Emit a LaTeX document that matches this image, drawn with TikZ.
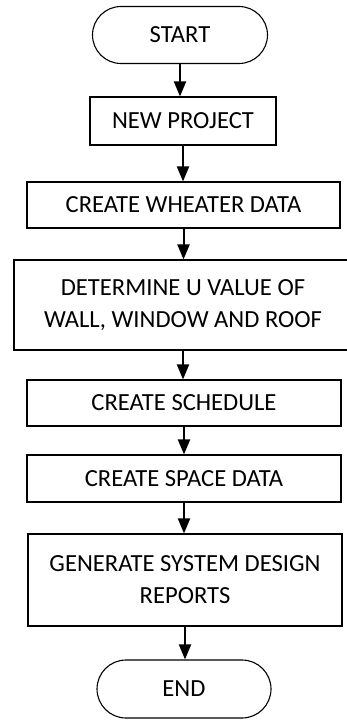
\documentclass[tikz,border=0pt]{standalone}
\usepackage{fontspec}
\setmainfont{Carlito}
\usetikzlibrary{arrows.meta,shapes.misc}
\begin{document}
\begin{tikzpicture}[x=1pt,y=1pt,
		box/.style={draw,line width=1.1pt,inner sep=0pt,align=center,
			minimum height=46pt,font=\fontsize{24.6}{32}\selectfont},
		term/.style={box,rounded rectangle,minimum width=175pt,minimum height=57pt},
		flow/.style={-{Triangle[length=15pt,width=12pt]},line width=2pt}]
		\useasboundingbox (0,0) rectangle (347,-720);
		% terminals and process steps
		\node[term] (start) at (180,-35) {START};
		\node[box,minimum width=186pt,minimum height=48pt] (newproj) at (183,-121) {NEW PROJECT};
		\node[box,minimum width=313pt] (weather) at (183.5,-205) {CREATE WHEATER DATA};
		\node[box,minimum width=338pt,minimum height=90pt] (uvalue) at (183,-305) {DETERMINE U VALUE OF\\WALL, WINDOW AND ROOF};
		\node[box,minimum width=314pt] (schedule) at (184,-403) {CREATE SCHEDULE};
		\node[box,minimum width=314pt,minimum height=47pt] (space) at (184,-478.5) {CREATE SPACE DATA};
		\node[box,minimum width=314pt,minimum height=92pt] (report) at (185,-580) {GENERATE SYSTEM DESIGN\\REPORTS};
		\node[term,minimum width=174pt,minimum height=58pt] (end) at (184,-689) {END};
		% arrows between steps
		\draw[flow] (start.south) -- (start.south |- newproj.north);
		\draw[flow] (newproj.south) -- (newproj.south |- weather.north);
		\draw[flow] (weather.south) -- (weather.south |- uvalue.north);
		\draw[flow] (uvalue.south) -- (uvalue.south |- schedule.north);
		\draw[flow] (schedule.south) -- (schedule.south |- space.north);
		\draw[flow] (space.south) -- (space.south |- report.north);
		\draw[flow] (report.south) -- (report.south |- end.north);
	\end{tikzpicture}
\end{document}
